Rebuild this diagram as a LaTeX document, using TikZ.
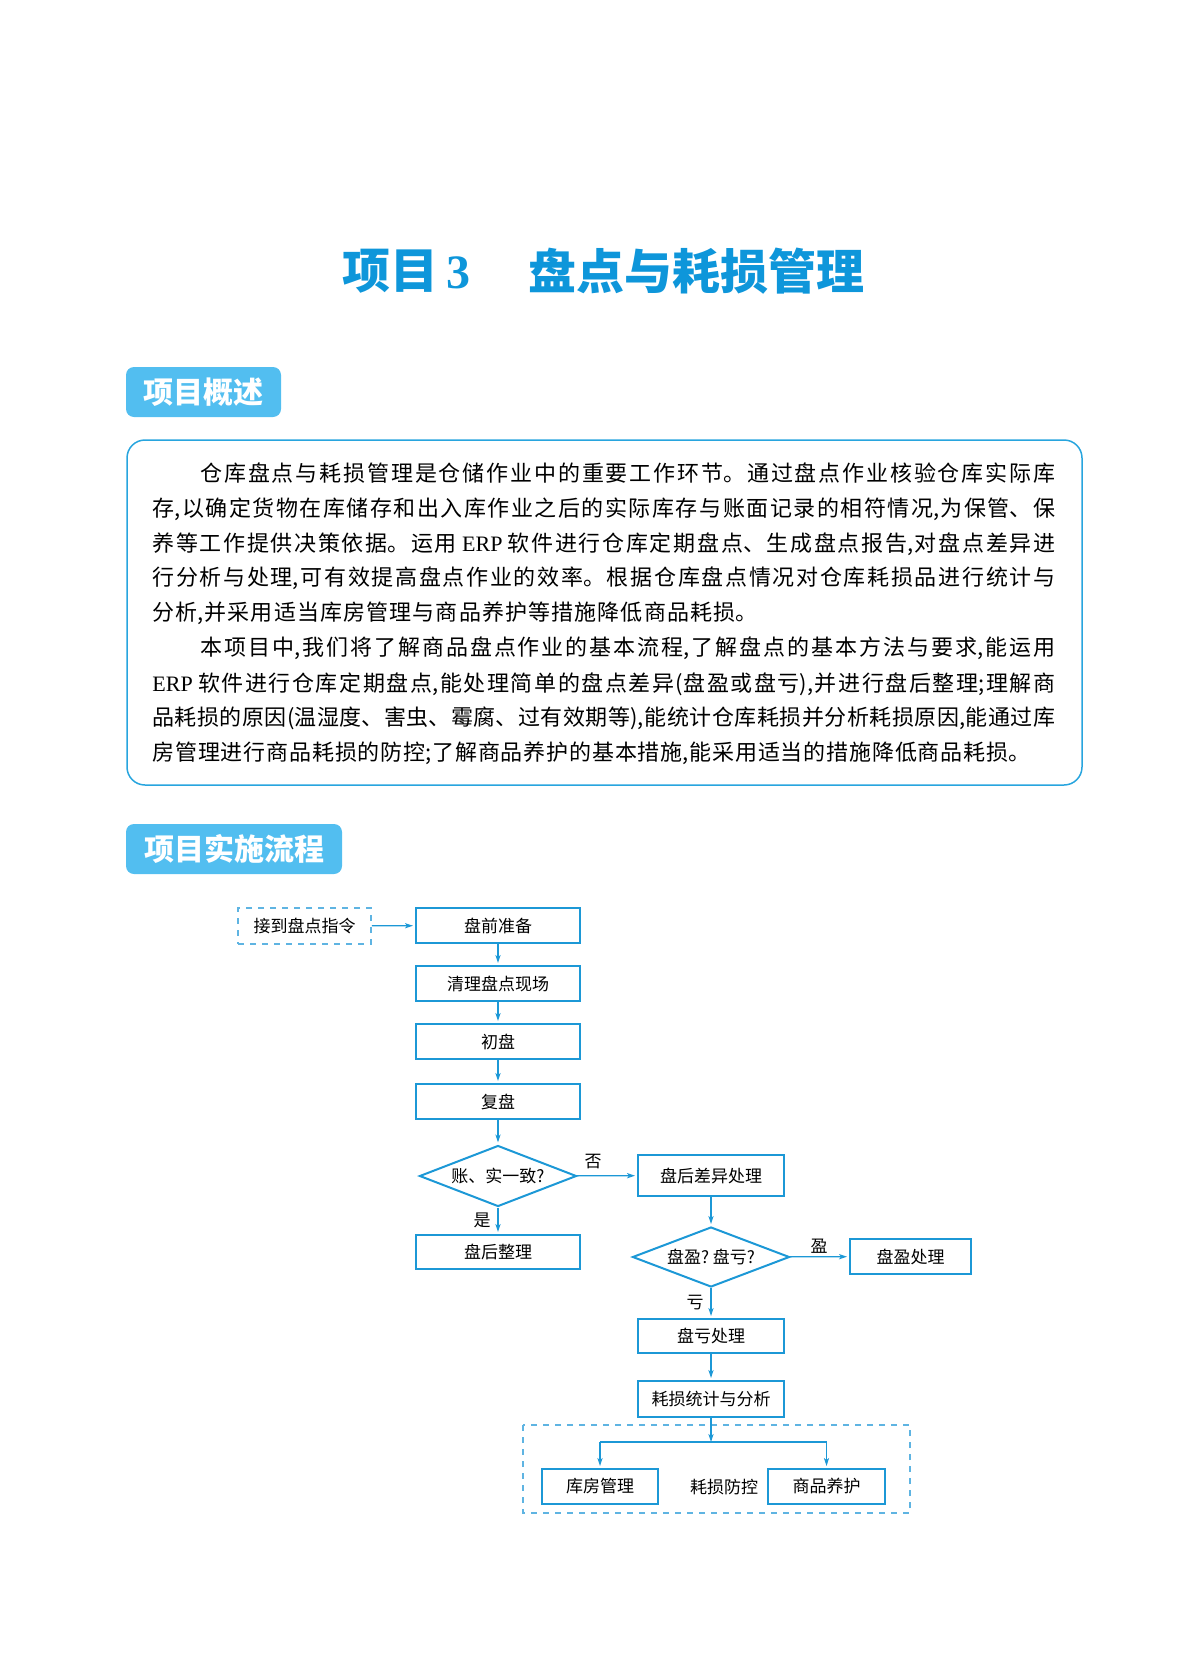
\documentclass[tikz,border=0pt]{standalone}
\usepackage{fontspec}
\setmainfont{Liberation Serif}
\newfontfamily\cjk{Noto Sans CJK SC}
\usetikzlibrary{arrows.meta,shapes.geometric}
\definecolor{titleblue}{RGB}{14,150,218}
\definecolor{tabblue}{RGB}{82,190,240}
\definecolor{flowblue}{RGB}{28,152,214}
\definecolor{dashblue}{RGB}{95,180,226}
\definecolor{frameblue}{RGB}{40,165,222}
\newcommand\titlestyle{\cjk\bfseries\fontsize{24}{28}\selectfont}
\newcommand\tabtextstyle{\cjk\bfseries\fontsize{15}{18}\selectfont}
\newcommand\flowtextstyle{\cjk\fontsize{8.5}{10}\selectfont}
\newcommand\overviewline[2]{\parbox{#1}{\cjk\fontsize{11}{13}\selectfont
  \XeTeXlinebreaklocale "zh"\XeTeXlinebreakskip=0pt plus 6pt\relax
  \tolerance=9999\parfillskip=0pt #2}}
\newcommand\erp{{\rmfamily ERP}}
\tikzset{
  tabbox/.style={fill=tabblue, rounded corners=4pt, inner sep=0pt, minimum height=25pt, text=white, font=\tabtextstyle},
  procbox/.style={draw=flowblue, line width=1pt, inner sep=0pt, minimum height=17.5pt, font=\flowtextstyle},
  startbox/.style={draw=dashblue, dashed, line width=0.8pt, inner sep=0pt, minimum width=66.5pt, minimum height=18pt, font=\flowtextstyle},
  decision/.style={diamond, aspect=2.6, draw=flowblue, line width=1pt, inner sep=0pt, minimum width=78.5pt, minimum height=30.5pt, font=\flowtextstyle},
  flowlabel/.style={inner sep=0pt, font=\flowtextstyle},
  flowarrow/.style={draw=flowblue, line width=0.6pt, -{Stealth[length=4pt, width=2.6pt, inset=1pt]}, shorten >=1pt},
  flowline/.style={draw=flowblue, line width=0.6pt},
  textline/.style={anchor=west, inner sep=0pt}
}
\begin{document}
\begin{tikzpicture}[x=0.5pt, y=-0.5pt]
  \useasboundingbox (0,0) rectangle (1203,1675);

  \node[anchor=west, inner sep=0pt, text=titleblue, font=\titlestyle] (title) at (342,271) {项目\,{\rmfamily\bfseries 3}};
  \node[anchor=west, inner sep=0pt, text=titleblue, font=\titlestyle] (titletext) at (528,271) {盘点与耗损管理};

  \node[tabbox, minimum width=77.5pt] (overviewtab) at (203.5,392) {项目概述};
  \draw[frameblue, line width=0.75pt, rounded corners=9pt] (127,440) rectangle (1082,785);

  \node[textline] (line1) at (200,473) {\overviewline{427.5pt}{仓库盘点与耗损管理是仓储作业中的重要工作环节。通过盘点作业核验仓库实际库}};
  \node[textline] (line2) at (152,509) {\overviewline{451.5pt}{存,以确定货物在库储存和出入库作业之后的实际库存与账面记录的相符情况,为保管、保}};
  \node[textline] (line3) at (152,544) {\overviewline{451.5pt}{养等工作提供决策依据。运用 \erp{} 软件进行仓库定期盘点、生成盘点报告,对盘点差异进}};
  \node[textline] (line4) at (152,578) {\overviewline{451.5pt}{行分析与处理,可有效提高盘点作业的效率。根据仓库盘点情况对仓库耗损品进行统计与}};
  \node[textline] (line5) at (152,613) {\overviewline{302.5pt}{分析,并采用适当库房管理与商品养护等措施降低商品耗损。}};
  \node[textline] (line6) at (200,648) {\overviewline{427.5pt}{本项目中,我们将了解商品盘点作业的基本流程,了解盘点的基本方法与要求,能运用}};
  \node[textline] (line7) at (152,684) {\overviewline{451.5pt}{\erp{} 软件进行仓库定期盘点,能处理简单的盘点差异(盘盈或盘亏),并进行盘后整理;理解商}};
  \node[textline] (line8) at (152,718) {\overviewline{451.5pt}{品耗损的原因(温湿度、害虫、霉腐、过有效期等),能统计仓库耗损并分析耗损原因,能通过库}};
  \node[textline] (line9) at (152,753) {\overviewline{439pt}{房管理进行商品耗损的防控;了解商品养护的基本措施,能采用适当的措施降低商品耗损。}};

  \node[tabbox, minimum width=108pt] (flowtab) at (234,849) {项目实施流程};

  \node[startbox] (order) at (304.5,926) {接到盘点指令};
  \node[procbox, minimum width=82pt] (prepare) at (498,925.5) {盘前准备};
  \node[procbox, minimum width=82pt] (clearsite) at (498,983.5) {清理盘点现场};
  \node[procbox, minimum width=82pt] (firstcount) at (498,1041.5) {初盘};
  \node[procbox, minimum width=82pt] (recount) at (498,1101.5) {复盘};
  \node[decision] (match) at (498,1176) {账、实一致?};
  \node[procbox, minimum width=73pt, minimum height=20.5pt] (variance) at (711,1175.5) {盘后差异处理};
  \node[procbox, minimum width=82pt, minimum height=17pt] (tidyup) at (498,1252) {盘后整理};
  \node[decision, minimum height=30pt] (gainloss) at (711,1257) {盘盈?\ 盘亏?};
  \node[procbox, minimum width=60.5pt] (gain) at (910.5,1256.5) {盘盈处理};
  \node[procbox, minimum width=73pt, minimum height=17pt] (loss) at (711,1336) {盘亏处理};
  \node[procbox, minimum width=73pt, minimum height=18pt] (lossstat) at (711,1399) {耗损统计与分析};
  \draw[dashblue, dashed, line width=0.6pt] (523,1425) rectangle (910,1513);
  \node[procbox, minimum width=58pt] (storeroom) at (600,1486.5) {库房管理};
  \node[procbox, minimum width=58.5pt] (upkeep) at (826.5,1486.5) {商品养护};
  \node[flowlabel] (prevent) at (724,1487) {耗损防控};
  \coordinate (split) at (711,1442);

  \node[flowlabel] (nolabel) at (593,1162) {否};
  \node[flowlabel] (yeslabel) at (482,1220) {是};
  \node[flowlabel] (gainlabel) at (819,1246) {盈};
  \node[flowlabel] (losslabel) at (695,1303) {亏};

  \draw[flowarrow] (order) -- (prepare);
  \draw[flowarrow] (prepare) -- (clearsite);
  \draw[flowarrow] (clearsite) -- (firstcount);
  \draw[flowarrow] (firstcount) -- (recount);
  \draw[flowarrow] (recount) -- (match);
  \draw[flowarrow] (match) -- (variance);
  \draw[flowarrow] (match) -- (tidyup);
  \draw[flowarrow] (variance) -- (gainloss);
  \draw[flowarrow] (gainloss) -- (gain);
  \draw[flowarrow] (gainloss) -- (loss);
  \draw[flowarrow] (loss) -- (lossstat);
  \draw[flowarrow, shorten >=0pt] (lossstat) -- (split);
  \draw[flowline] (storeroom.north |- split) -- (upkeep.north |- split);
  \draw[flowarrow] (storeroom.north |- split) -- (storeroom);
  \draw[flowarrow] (upkeep.north |- split) -- (upkeep);
\end{tikzpicture}
\end{document}
